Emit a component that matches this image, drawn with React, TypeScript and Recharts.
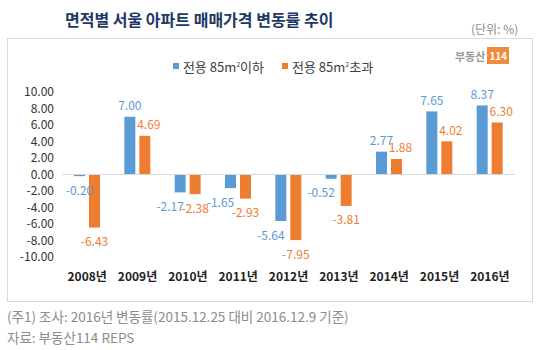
import React from "react";
import { BarChart, Bar, XAxis, YAxis, ReferenceLine, LabelList } from "recharts";

const years = ["2008년", "2009년", "2010년", "2011년", "2012년", "2013년", "2014년", "2015년", "2016년"];
const under85 = [-0.2, 7.0, -2.17, -1.65, -5.64, -0.52, 2.77, 7.65, 8.37];
const over85 = [-6.43, 4.69, -2.38, -2.93, -7.95, -3.81, 1.88, 4.02, 6.3];
const yTicks = [-10, -8, -6, -4, -2, 0, 2, 4, 6, 8, 10];

const BLUE = "#5b9bd5";
const ORANGE = "#ed7d31";
const FONT = "'Noto Sans CJK KR', 'Noto Sans', sans-serif";

const data = years.map((y, i) => ({ year: y, a: under85[i], b: over85[i] }));

function makeLabel(color: string, dxNeg: number, dxPos: number) {
  return (props: any) => {
    const { x, y, width, height, value } = props;
    const neg = value < 0;
    const cx = x + width / 2 + (neg && value < -0.3 ? dxNeg : neg ? 0 : dxPos);
    const top = Math.min(y, y + height);
    const bottom = Math.max(y, y + height);
    const cy = neg ? bottom + 13 : top - 12;
    return (
      <text x={cx} y={cy} textAnchor="middle" dominantBaseline="central" fill={color} fontSize={12} fontFamily={FONT}>
        {value.toFixed(2)}
      </text>
    );
  };
}

function LegendBox() {
  const item = (color: string, text: React.ReactNode) => (
    <span style={{ display: "inline-flex", alignItems: "center", margin: "0 9px" }}>
      <span style={{ width: 6, height: 6, background: color, display: "inline-block", marginRight: 4 }} />
      <span>{text}</span>
    </span>
  );
  return (
    <div style={{ textAlign: "center", fontSize: 13, color: "#404040", fontFamily: FONT }}>
      {item(BLUE, <>전용 85m<sup style={{ fontSize: 7 }}>2</sup>이하</>)}
      {item(ORANGE, <>전용 85m<sup style={{ fontSize: 7 }}>2</sup>초과</>)}
    </div>
  );
}

export default function App() {
  return (
    <div style={{ position: "absolute", left: 0, top: 0, width: 540, height: 350, background: "#fff", fontFamily: FONT }}>
      <div style={{ position: "absolute", left: 65, top: 7, fontSize: 16, fontWeight: "bold", color: "#1f3864", whiteSpace: "nowrap" }}>
        면적별 서울 아파트 매매가격 변동률 추이
      </div>
      <div style={{ position: "absolute", left: 471, top: 20, fontSize: 12, color: "#8c8c8c", whiteSpace: "nowrap" }}>
        (단위: %)
      </div>
      <div style={{ position: "absolute", left: 7, top: 38, width: 526, height: 264, border: "1px solid #d9d9d9", boxSizing: "border-box" }}>
        <div style={{ position: "absolute", left: 447, top: 8, display: "flex", alignItems: "center", fontSize: 11, fontWeight: "bold", color: "#9a9a9a" }}>
          부동산
          <span style={{ background: "#f08a3c", color: "#fff", fontSize: 10, padding: "1px 2px", marginLeft: 2 }}>114</span>
        </div>
        <div style={{ position: "absolute", left: 3, top: 15, width: 524 }}>
          <LegendBox />
        </div>
        <BarChart
          width={524}
          height={262}
          data={data}
          margin={{ top: 53, right: 17, bottom: 14, left: 0 }}
          barSize={11}
          barGap={4}
        >
          <YAxis
            domain={[-10, 10]}
            ticks={yTicks}
            width={54}
            axisLine={false}
            tickLine={false}
            tickFormatter={(v: number) => v.toFixed(2)}
            tick={{ fontSize: 12, fill: "#333", fontFamily: FONT }}
            interval={0}
          />
          <XAxis
            dataKey="year"
            axisLine={false}
            tickLine={false}
            height={30}
            tickMargin={9}
            tick={{ fontSize: 12, fill: "#222", fontWeight: "bold", fontFamily: FONT }}
            interval={0}
          />
          <ReferenceLine y={0} stroke="#d9d9d9" strokeWidth={1} />
          <Bar dataKey="a" fill={BLUE} isAnimationActive={false}>
            <LabelList dataKey="a" content={makeLabel(BLUE, -10, 0)} />
          </Bar>
          <Bar dataKey="b" fill={ORANGE} isAnimationActive={false}>
            <LabelList dataKey="b" content={makeLabel(ORANGE, 0, 4)} />
          </Bar>
        </BarChart>
      </div>
      <div style={{ position: "absolute", left: 7, top: 306, fontSize: 13.5, color: "#8c8c8c", whiteSpace: "nowrap" }}>
        (주1) 조사: 2016년 변동률(2015.12.25 대비 2016.12.9 기준)
      </div>
      <div style={{ position: "absolute", left: 7, top: 327, fontSize: 13.5, color: "#8c8c8c", whiteSpace: "nowrap" }}>
        자료: 부동산114 REPS
      </div>
    </div>
  );
}
